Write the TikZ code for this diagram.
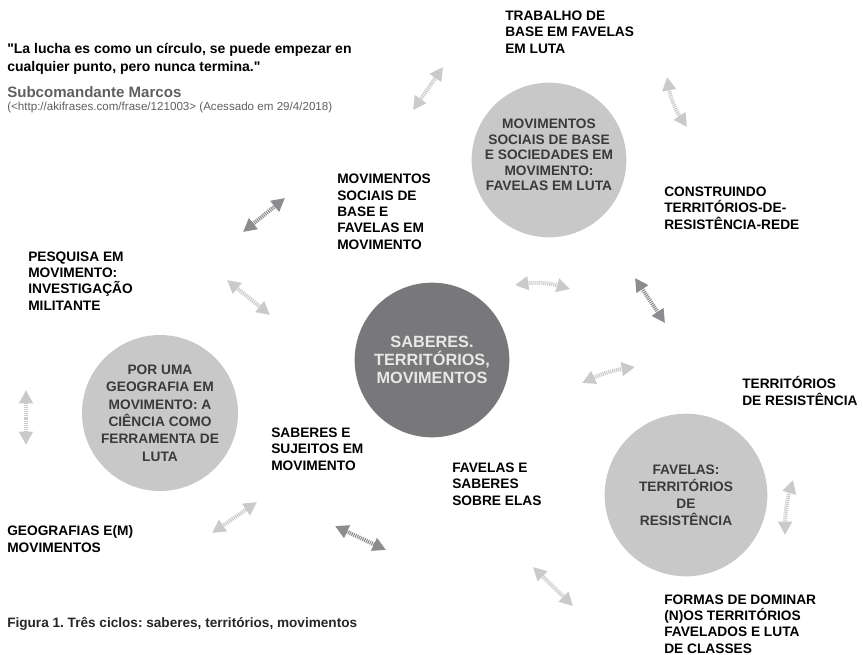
\documentclass[tikz,border=0pt]{standalone}
\usepackage{fontspec}
\setmainfont{Liberation Sans}
\usetikzlibrary{arrows.meta}
\frenchspacing
\definecolor{circlegray}{RGB}{200,200,200}
\definecolor{coregray}{RGB}{120,120,122}
\definecolor{coretext}{RGB}{232,232,232}
\definecolor{textgray}{RGB}{58,58,58}
\definecolor{quotegray}{RGB}{95,95,95}
\definecolor{arrowdark}{RGB}{140,140,142}
\definecolor{arrowlight}{RGB}{202,202,202}

\begin{document}
\begin{tikzpicture}[x=0.75pt, y=-0.75pt,
    cycle/.style={circle, fill=circlegray, text=textgray, align=center, inner sep=0pt,
      font=\bfseries\fontsize{10.3}{11.6}\selectfont},
    lbl/.style={anchor=base west, align=left, inner sep=0pt,
      font=\bfseries\fontsize{10.3}{12.2}\selectfont},
    flow/.style={<->, >={Triangle[length=10pt, width=10pt]}, line width=3pt,
      dash pattern=on 0.8pt off 0.7pt}]
  \useasboundingbox (0,0) rectangle (863,654);

  % the four cycles
  \node[cycle, minimum size=117pt, font=\bfseries\fontsize{10.3}{13}\selectfont] (geo) at (160,413)
    {POR UMA\\GEOGRAFIA EM\\MOVIMENTO: A\\CI\^ENCIA COMO\\FERRAMENTA DE\\LUTA};
  \node[cycle, minimum size=116pt] (mov) at (549,160)
    {MOVIMENTOS\\SOCIAIS DE BASE\\E SOCIEDADES EM\\MOVIMENTO:\\FAVELAS EM LUTA\\[-4pt]};
  \node[cycle, minimum size=122pt, font=\bfseries\fontsize{10.3}{12.8}\selectfont] (fav) at (686,495)
    {FAVELAS:\\TERRIT\'ORIOS\\DE\\RESIST\^ENCIA};
  \node[cycle, minimum size=116pt, fill=coregray, text=coretext,
    font=\bfseries\fontsize{12.2}{13.5}\selectfont] (core) at (432,360)
    {SABERES.\\TERRIT\'ORIOS,\\MOVIMENTOS};

  % labels round the cycles (placed at the baseline of their last line)
  \node[lbl] (trab) at (505,53) {TRABALHO DE\\BASE EM FAVELAS\\EM LUTA};
  \node[lbl] (movsoc) at (337,249) {MOVIMENTOS\\SOCIAIS DE\\BASE E\\FAVELAS EM\\MOVIMENTO};
  \node[lbl] (constr) at (664,229) {CONSTRUINDO\\TERRIT\'ORIOS-DE-\\RESIST\^ENCIA-REDE};
  \node[lbl] (pesq) at (28,310) {PESQUISA EM\\MOVIMENTO:\\INVESTIGA\c{C}\~AO\\MILITANTE};
  \node[lbl] (terres) at (742,405) {TERRIT\'ORIOS\\DE RESIST\^ENCIA};
  \node[lbl] (sabsuj) at (271,470) {SABERES E\\SUJEITOS EM\\MOVIMENTO};
  \node[lbl] (favsab) at (452,505) {FAVELAS E\\SABERES\\SOBRE ELAS};
  \node[lbl] (geomov) at (7,552) {GEOGRAFIAS E(M)\\MOVIMENTOS};
  \node[lbl] (formas) at (664,653) {FORMAS DE DOMINAR\\(N)OS TERRIT\'ORIOS\\FAVELADOS E LUTA\\DE CLASSES};

  % quote and caption
  \node[lbl, font=\bfseries\fontsize{10.5}{13.5}\selectfont] (quote) at (7,71)
    {\textquotedbl La lucha es como un c\'irculo, se puede empezar en\\cualquier punto, pero nunca termina.\textquotedbl};
  \node[lbl, text=quotegray, font=\bfseries\fontsize{11.3}{12}\selectfont] (marcos) at (7,97)
    {Subcomandante Marcos};
  \node[lbl, text=quotegray, font=\fontsize{8.7}{10}\selectfont] (source) at (7,110)
    {(<http://akifrases.com/frase/121003> (Acessado em 29/4/2018)};
  \node[lbl, text=black!85, font=\bfseries\fontsize{10.2}{11}\selectfont] (caption) at (7,627)
    {Figura 1. Tr\^es ciclos: saberes, territ\'orios, movimentos};

  % double arrows
  \foreach \n/\s/\e/\col/\bnd in {
      1/{413,110}/{443,67}/arrowlight/0,
      2/{667,77}/{687,127}/arrowlight/-12,
      3/{243,232}/{285,198}/arrowdark/0,
      4/{227,280}/{270,315}/arrowlight/0,
      5/{515,285}/{570,289}/arrowlight/12,
      6/{635,278}/{665,323}/arrowdark/0,
      7/{582,383}/{635,367}/arrowlight/8,
      8/{26,390}/{26,445}/arrowlight/0,
      9/{212,533}/{257,502}/arrowlight/0,
      10/{335,526}/{386,550}/arrowdark/0,
      11/{533,567}/{573,606}/arrowlight/0,
      12/{793,480}/{785,535}/arrowlight/-8}
  {
    \coordinate (f\n s) at (\s);
    \coordinate (f\n e) at (\e);
    \draw[flow, \col] (f\n s) to[bend left=\bnd] (f\n e);
  }
\end{tikzpicture}
\end{document}
